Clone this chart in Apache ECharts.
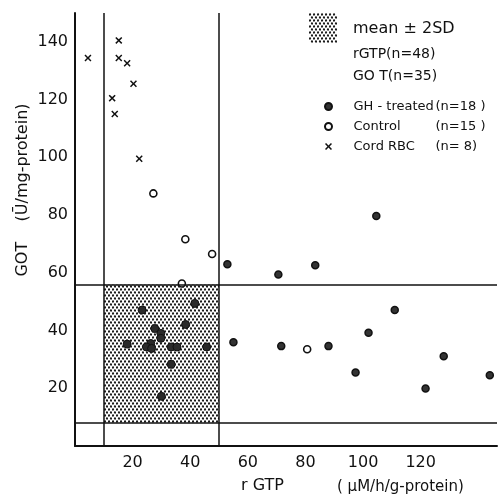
<!DOCTYPE html>
<html>
<head>
<meta charset="utf-8">
<script src="https://cdn.jsdelivr.net/npm/echarts@6/dist/echarts.min.js"></script>
<style>
  html, body { margin: 0; padding: 0; background: #fff; }
  #chart { width: 500px; height: 499px; }
</style>
</head>
<body>
<div id="chart"></div>
<script>
// values: [rGTP, GOT]
var ghTreated = [
  [70.6, 59.4], [83.4, 62.6], [104.6, 79.7], [52.9, 63.0], [111.0, 47.1],
  [101.9, 39.2], [71.6, 34.6], [88.0, 34.6], [97.4, 25.5], [128.0, 31.1],
  [121.7, 19.9], [144.0, 24.5], [55.0, 35.9],
  [41.6, 49.4], [23.3, 47.1], [38.4, 42.1], [45.7, 34.3], [30.0, 17.2]
];
var control = [
  [27.2, 87.5], [38.3, 71.6], [47.6, 66.5], [37.1, 56.3], [80.6, 33.5],
  [27.7, 40.7], [29.8, 39.0], [29.8, 37.3], [18.1, 35.3], [26.3, 35.5],
  [24.8, 34.3], [26.6, 33.8], [33.4, 34.3], [35.4, 34.3], [33.4, 28.3]
];
var cordRBC = [
  [4.5, 134.4], [15.2, 140.5], [15.2, 134.4], [18.1, 132.6],
  [20.3, 125.5], [12.9, 120.5], [13.8, 115.0], [22.3, 99.5]
];
// mean ± 2SD
var gtpRange = [10, 50];
var gotRange = [8, 56];

var xTicks = [20, 40, 60, 80, 100, 120];
var yTicks = [20, 40, 60, 80, 100, 120, 140];

var FONT = 'DejaVu Sans';

// stipple pattern
function makeStipple() {
  var c = document.createElement('canvas');
  c.width = 4; c.height = 6;
  var g = c.getContext('2d');
  g.fillStyle = '#fff';
  g.fillRect(0, 0, 4, 6);
  g.fillStyle = '#1a1a1a';
  g.beginPath(); g.arc(1, 1.5, 1.15, 0, Math.PI * 2); g.fill();
  g.beginPath(); g.arc(3, 4.5, 1.15, 0, Math.PI * 2); g.fill();
  return c;
}
var stipple = { image: makeStipple(), repeat: 'repeat' };

function inBox(p) {
  return p[0] > gtpRange[0] && p[0] < gtpRange[1] && p[1] > gotRange[0] && p[1] < gotRange[1];
}
// points sitting on the stipple look like dark blobs in the figure
function toItems(arr) {
  return arr.map(function (p) {
    if (inBox(p)) {
      return { value: p, symbolSize: 8, itemStyle: { color: '#2a2a2a', borderColor: '#111', borderWidth: 1 } };
    }
    return { value: p };
  });
}

var crossPath = 'path://M0,1.5L1.5,0L5,3.5L8.5,0L10,1.5L6.5,5L10,8.5L8.5,10L5,6.5L1.5,10L0,8.5L3.5,5Z';

var chart = echarts.init(document.getElementById('chart'));

chart.setOption({
  animation: false,
  backgroundColor: '#fff',
  textStyle: { fontFamily: FONT },
  grid: { left: 75, right: 0, top: 13, bottom: 53 },
  xAxis: {
    type: 'value', min: 0, max: 146.5, interval: 20,
    axisLine: { lineStyle: { color: '#111', width: 2 } },
    axisTick: { show: false },
    splitLine: { show: false },
    axisLabel: {
      color: '#111', fontSize: 16, fontFamily: FONT, margin: 9,
      formatter: function (v) { return xTicks.indexOf(v) >= 0 ? String(v) : ''; }
    }
  },
  yAxis: {
    type: 'value', min: 0, max: 150, interval: 20,
    axisLine: { lineStyle: { color: '#111', width: 2 } },
    axisTick: { show: false },
    splitLine: { show: false },
    axisLabel: {
      color: '#111', fontSize: 16, fontFamily: FONT, margin: 7,
      formatter: function (v) { return yTicks.indexOf(v) >= 0 ? String(v) : ''; }
    }
  },
  legend: {
    orient: 'vertical', left: 319, top: 95, itemGap: 7,
    itemWidth: 10, itemHeight: 7,
    data: ['GH - treated', 'Control', 'Cord RBC'],
    textStyle: {
      fontFamily: FONT, fontSize: 13, color: '#111', padding: [0, 0, 0, 15],
      rich: {
        a: { width: 82, fontSize: 13, fontFamily: FONT, color: '#111' },
        b: { fontSize: 13, fontFamily: FONT, color: '#111' }
      }
    },
    formatter: function (name) {
      var n = { 'GH - treated': '(n=18 )', 'Control': '(n=15 )', 'Cord RBC': '(n= 8)' }[name];
      return '{a|' + name + '}{b|' + n + '}';
    }
  },
  graphic: [
    { type: 'rect', left: 309, top: 13, shape: { width: 28, height: 30 }, style: { fill: stipple } },
    { type: 'text', left: 353, top: 21, style: { text: 'mean ± 2SD', font: '16px ' + FONT, fill: '#111' } },
    { type: 'text', left: 353, top: 47, style: { text: 'rGTP(n=48)', font: '14px ' + FONT, fill: '#111' } },
    { type: 'text', left: 353, top: 69, style: { text: 'GO T(n=35)', font: '14px ' + FONT, fill: '#111' } },
    { type: 'text', left: 241, top: 478, style: { text: 'r GTP', font: '16px ' + FONT, fill: '#111' } },
    { type: 'text', left: 337, top: 480, style: { text: '( μM/h/g-protein)', font: '15px ' + FONT, fill: '#111' } },
    { type: 'text', x: 23, y: 190, rotation: Math.PI / 2,
      style: { text: 'GOT    (Ū/mg-protein)', font: '16px ' + FONT, fill: '#111', align: 'center', verticalAlign: 'middle' } }
  ],
  series: [
    {
      name: 'range', type: 'scatter', data: [], z: 1, silent: true,
      markArea: {
        silent: true,
        itemStyle: { color: stipple },
        data: [[{ xAxis: gtpRange[0], yAxis: gotRange[0] }, { xAxis: gtpRange[1], yAxis: gotRange[1] }]]
      },
      markLine: {
        silent: true, symbol: 'none', label: { show: false },
        lineStyle: { color: '#111', width: 1.5, type: 'solid' },
        data: [
          { xAxis: gtpRange[0] }, { xAxis: gtpRange[1] },
          { yAxis: gotRange[0] }, { yAxis: gotRange[1] }
        ]
      }
    },
    {
      name: 'GH - treated', type: 'scatter', z: 3,
      symbol: 'circle', symbolSize: 7,
      itemStyle: { color: '#333', borderColor: '#111', borderWidth: 1.5, opacity: 1 },
      data: toItems(ghTreated)
    },
    {
      name: 'Control', type: 'scatter', z: 3,
      symbol: 'circle', symbolSize: 7,
      itemStyle: { color: '#fff', borderColor: '#111', borderWidth: 1.6, opacity: 1 },
      data: toItems(control)
    },
    {
      name: 'Cord RBC', type: 'scatter', z: 3,
      symbol: crossPath, symbolSize: 7,
      itemStyle: { color: '#111', opacity: 1 },
      data: cordRBC
    }
  ]
});
</script>
</body>
</html>
